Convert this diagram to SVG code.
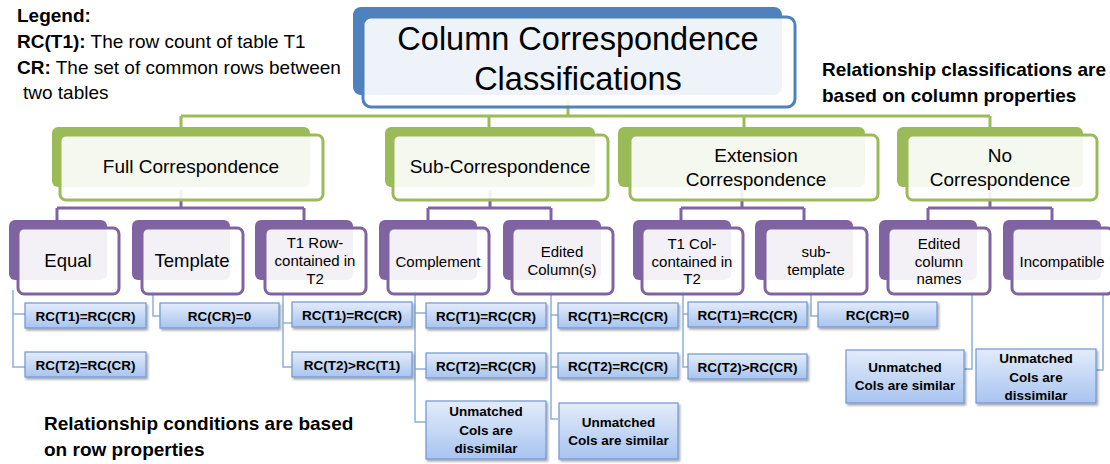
<svg xmlns="http://www.w3.org/2000/svg" width="1110" height="464" viewBox="0 0 1110 464">
<style>
text{font-family:"Liberation Sans",Arial,sans-serif;fill:#000}
.t{text-anchor:middle}
.b{font-weight:bold}
.bkB{fill:#4F81BD}
.frB{fill:#fff;fill-opacity:.9;stroke:#4F81BD;stroke-width:3}
.bkG{fill:#9BBB59}
.frG{fill:#fff;fill-opacity:.9;stroke:#9BBB59;stroke-width:3}
.bkP{fill:#8064A2}
.frP{fill:#fff;fill-opacity:.9;stroke:#8064A2;stroke-width:3}
.cond{fill:url(#bg);stroke:#7096D1;stroke-width:1.2;filter:url(#sh)}
.l1{font-size:19px}
.l2{font-size:18.5px}
.l2s{font-size:15px}
.c{font-size:13.5px;font-weight:bold}
.lg{font-size:19px}
.gc{fill:none;stroke:#9BBB59;stroke-width:3}
.pc{fill:none;stroke:#8064A2;stroke-width:3}
.bc{fill:none;stroke:#8DB0DB;stroke-width:1.5}
</style>
<defs>
<linearGradient id="bg" x1="0" y1="0" x2="0" y2="1">
<stop offset="0" stop-color="#E3ECFA"/>
<stop offset="1" stop-color="#A8C4F0"/>
</linearGradient>
<filter id="sh" x="-10%" y="-20%" width="130%" height="160%">
<feDropShadow dx="1.5" dy="2" stdDeviation="1.2" flood-color="#000" flood-opacity="0.35"/>
</filter>
</defs>

<g id="connectors">
<path class="gc" d="M568 100V116M181 116H990M181 116V128M489 116V128M744 116V128M990 116V128"/>
<path class="pc" d="M181 190V208M57 208H304M57 208V221M304 208V221"/>
<path class="pc" d="M490 190V208M428 208H551M428 208V221M551 208V221"/>
<path class="pc" d="M742 190V208M681 208H804M681 208V221M804 208V221"/>
<path class="pc" d="M990 190V208M928 208H1052M928 208V221M1052 208V221"/>
<path class="bc" d="M13 290V367H25M13 314H25"/>
<path class="bc" d="M153 290V316H160"/>
<path class="bc" d="M283 290V367H292M283 323H292"/>
<path class="bc" d="M415 290V422H426M415 313H426M415 369H426"/>
<path class="bc" d="M551 290V419H558M551 315H558M551 367H558"/>
<path class="bc" d="M683 290V367H688M683 314H688"/>
<path class="bc" d="M811 290V316H818"/>
<path class="bc" d="M972 290V369H964"/>
<path class="bc" d="M1103 290V370H1096"/>
</g>

<g id="legend">
<text class="lg b" x="17" y="22">Legend:</text>
<text class="lg" x="17" y="48"><tspan class="b">RC(T1):</tspan> The row count of table T1</text>
<text class="lg" x="17" y="74"><tspan class="b">CR:</tspan> The set of common rows between</text>
<text class="lg" x="23" y="99">two tables</text>
</g>
<g id="note-columns">
<text class="lg b" x="822" y="76">Relationship classifications are</text>
<text class="lg b" x="822" y="102">based on column properties</text>
</g>
<g id="note-rows">
<text class="lg b" x="44" y="430">Relationship conditions are based</text>
<text class="lg b" x="44" y="456">on row properties</text>
</g>

<g id="root">
<rect class="bkB" x="353" y="7" width="429" height="88" rx="8"/>
<rect class="frB" x="363" y="17" width="432" height="90" rx="8"/>
<text class="t" x="578" y="50" font-size="32.5">Column Correspondence</text>
<text class="t" x="578" y="90" font-size="32.5">Classifications</text>
</g>

<g id="full">
<rect class="bkG" x="52" y="127" width="258" height="60" rx="6"/>
<rect class="frG" x="60" y="135" width="263" height="65" rx="6"/>
<text class="t l1" x="191" y="173">Full Correspondence</text>
</g>
<g id="sub">
<rect class="bkG" x="385" y="127" width="210" height="60" rx="6"/>
<rect class="frG" x="393" y="135" width="215" height="65" rx="6"/>
<text class="t l1" x="500" y="173">Sub-Correspondence</text>
</g>
<g id="extension">
<rect class="bkG" x="618" y="127" width="247" height="60" rx="6"/>
<rect class="frG" x="630" y="135" width="248" height="65" rx="6"/>
<text class="t l1" x="756" y="162">Extension</text>
<text class="t l1" x="756" y="186">Correspondence</text>
</g>
<g id="none">
<rect class="bkG" x="897" y="127" width="186" height="60" rx="6"/>
<rect class="frG" x="907" y="135" width="190" height="65" rx="6"/>
<text class="t l1" x="1000" y="162">No</text>
<text class="t l1" x="1000" y="186">Correspondence</text>
</g>

<g id="equal">
<rect class="bkP" x="9" y="220" width="98" height="60" rx="6"/>
<rect class="frP" x="18" y="228" width="101" height="66" rx="6"/>
<text class="t l2" x="68" y="267">Equal</text>
</g>
<g id="template">
<rect class="bkP" x="132" y="220" width="98" height="60" rx="6"/>
<rect class="frP" x="142" y="228" width="101" height="66" rx="6"/>
<text class="t l2" x="192" y="267">Template</text>
</g>
<g id="t1row">
<rect class="bkP" x="255" y="220" width="98" height="60" rx="6"/>
<rect class="frP" x="265" y="228" width="101" height="66" rx="6"/>
<text class="t l2s" x="315" y="248">T1 Row-</text>
<text class="t l2s" x="315" y="266">contained in</text>
<text class="t l2s" x="315" y="284">T2</text>
</g>
<g id="complement">
<rect class="bkP" x="379" y="220" width="98" height="60" rx="6"/>
<rect class="frP" x="388" y="228" width="101" height="66" rx="6"/>
<text class="t l2s" x="438" y="267">Complement</text>
</g>
<g id="edited">
<rect class="bkP" x="503" y="220" width="98" height="60" rx="6"/>
<rect class="frP" x="512" y="228" width="101" height="66" rx="6"/>
<text class="t l2s" x="562" y="257">Edited</text>
<text class="t l2s" x="562" y="275">Column(s)</text>
</g>
<g id="t1col">
<rect class="bkP" x="633" y="220" width="98" height="60" rx="6"/>
<rect class="frP" x="642" y="228" width="101" height="66" rx="6"/>
<text class="t l2s" x="692" y="249">T1 Col-</text>
<text class="t l2s" x="692" y="267">contained in</text>
<text class="t l2s" x="692" y="284">T2</text>
</g>
<g id="subtemplate">
<rect class="bkP" x="755" y="220" width="98" height="60" rx="6"/>
<rect class="frP" x="765" y="228" width="102" height="66" rx="6"/>
<text class="t l2s" x="816" y="257">sub-</text>
<text class="t l2s" x="816" y="275">template</text>
</g>
<g id="editednames">
<rect class="bkP" x="879" y="220" width="98" height="60" rx="6"/>
<rect class="frP" x="888" y="228" width="102" height="66" rx="6"/>
<text class="t l2s" x="939" y="249">Edited</text>
<text class="t l2s" x="939" y="267">column</text>
<text class="t l2s" x="939" y="284">names</text>
</g>
<g id="incompatible">
<rect class="bkP" x="1003" y="220" width="98" height="60" rx="6"/>
<rect class="frP" x="1012" y="228" width="101" height="66" rx="6"/>
<text class="t l2s" x="1062" y="267">Incompatible</text>
</g>

<g id="c-equal-1"><rect class="cond" x="25" y="303" width="121" height="25"/><text class="t c" x="85.5" y="320.5">RC(T1)=RC(CR)</text></g>
<g id="c-equal-2"><rect class="cond" x="25" y="352" width="121" height="25"/><text class="t c" x="85.5" y="369.5">RC(T2)=RC(CR)</text></g>
<g id="c-template-1"><rect class="cond" x="160" y="303" width="119" height="25"/><text class="t c" x="219.5" y="320.5">RC(CR)=0</text></g>
<g id="c-t1row-1"><rect class="cond" x="292" y="302" width="120" height="25"/><text class="t c" x="352" y="319.5">RC(T1)=RC(CR)</text></g>
<g id="c-t1row-2"><rect class="cond" x="292" y="352" width="120" height="25"/><text class="t c" x="352" y="369.5">RC(T2)&gt;RC(T1)</text></g>
<g id="c-comp-1"><rect class="cond" x="426" y="303" width="120" height="25"/><text class="t c" x="486" y="320.5">RC(T1)=RC(CR)</text></g>
<g id="c-comp-2"><rect class="cond" x="426" y="353" width="120" height="25"/><text class="t c" x="486" y="370.5">RC(T2)=RC(CR)</text></g>
<g id="c-comp-3"><rect class="cond" x="426" y="401" width="120" height="58"/>
<text class="t c" x="486" y="416">Unmatched</text><text class="t c" x="486" y="434.5">Cols are</text><text class="t c" x="486" y="453">dissimilar</text></g>
<g id="c-edit-1"><rect class="cond" x="558" y="303" width="120" height="25"/><text class="t c" x="618" y="320.5">RC(T1)=RC(CR)</text></g>
<g id="c-edit-2"><rect class="cond" x="558" y="353" width="120" height="25"/><text class="t c" x="618" y="370.5">RC(T2)=RC(CR)</text></g>
<g id="c-edit-3"><rect class="cond" x="559" y="403" width="119" height="56"/>
<text class="t c" x="618.5" y="427">Unmatched</text><text class="t c" x="618.5" y="445">Cols are similar</text></g>
<g id="c-t1col-1"><rect class="cond" x="688" y="302" width="119" height="25"/><text class="t c" x="747.5" y="319.5">RC(T1)=RC(CR)</text></g>
<g id="c-t1col-2"><rect class="cond" x="688" y="354" width="119" height="25"/><text class="t c" x="747.5" y="371.5">RC(T2)&gt;RC(CR)</text></g>
<g id="c-subt-1"><rect class="cond" x="818" y="302" width="119" height="25"/><text class="t c" x="877.5" y="319.5">RC(CR)=0</text></g>
<g id="c-names-1"><rect class="cond" x="846" y="350" width="118" height="53"/>
<text class="t c" x="905" y="372">Unmatched</text><text class="t c" x="905" y="390">Cols are similar</text></g>
<g id="c-incomp-1"><rect class="cond" x="976" y="349" width="120" height="54"/>
<text class="t c" x="1036" y="363">Unmatched</text><text class="t c" x="1036" y="381.5">Cols are</text><text class="t c" x="1036" y="400">dissimilar</text></g>
</svg>
